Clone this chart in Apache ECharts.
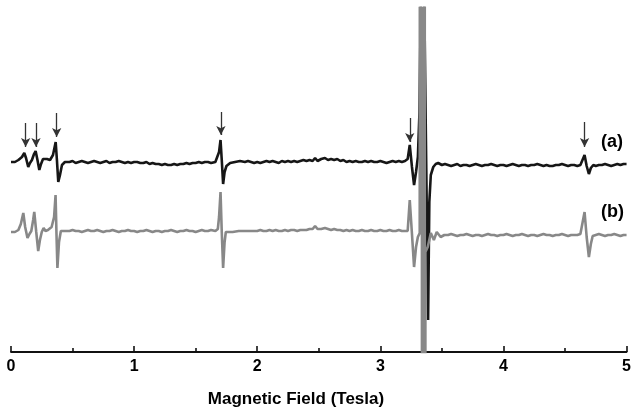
<!DOCTYPE html>
<html>
<head>
<meta charset="utf-8">
<script src="https://cdn.jsdelivr.net/npm/echarts@6/dist/echarts.min.js"></script>
<style>html,body{margin:0;padding:0;background:#fff;}#c{width:634px;height:412px;}</style>
</head>
<body>
<div id="c"></div>
<script>
// Magnetic field (Tesla) and signal (arbitrary units, offset traces)
const fieldA = [0,0.032,0.06,0.089,0.108,0.122,0.14,0.154,0.17,0.187,0.2,0.215,0.23,0.244,0.26,0.276,0.292,0.317,0.341,0.363,0.373,0.384,0.398,0.414,0.438,
  0.475,0.5,0.525,0.55,0.575,0.6,0.625,0.65,0.675,0.7,0.725,0.75,0.775,0.8,0.825,0.85,0.875,0.9,0.925,0.95,0.975,1.0,1.025,1.05,1.075,1.1,1.125,1.15,1.175,1.2,1.225,1.25,1.275,1.3,1.325,1.35,1.375,1.4,1.425,1.45,1.475,1.5,1.525,1.55,1.575,1.6,1.625,1.66,
  1.675,1.69,1.702,1.712,1.723,1.735,1.75,1.78,1.82,1.86,1.9,1.925,1.95,1.975,2.0,2.025,2.05,2.075,2.1,2.125,2.15,2.175,2.2,2.225,2.25,2.275,2.3,2.325,2.35,2.375,2.4,2.425,2.45,2.47,2.49,2.52,2.55,2.575,2.6,2.625,2.65,2.675,2.7,2.725,2.75,2.775,2.8,2.825,2.85,2.875,2.9,2.925,2.95,2.975,3.0,3.025,3.05,3.075,3.1,3.125,3.15,3.175,3.2,
  3.222,3.239,3.257,3.274,3.29,3.305,3.318,3.334,3.352,3.388,3.398,3.41,3.43,3.45,3.47,3.5,3.525,
  3.55,3.575,3.6,3.625,3.65,3.675,3.7,3.725,3.75,3.775,3.8,3.825,3.85,3.875,3.9,3.925,3.95,3.975,4.0,4.025,4.05,4.075,4.1,4.125,4.15,4.175,4.2,4.225,4.25,4.275,4.3,4.325,4.35,4.375,4.4,4.425,4.45,4.475,4.5,4.525,4.55,4.575,4.6,4.625,4.64,4.659,4.676,4.694,4.71,4.73,4.75,4.775,4.8,4.825,4.85,4.875,4.9,4.925,4.95,4.975,5.0];
const signalA = [190,190,192,195,199,194,185,189,192,198,201,192,182,188,193,191,193,192,197,210,192,170,177,187,190,
  190,191,189,190,191,190,189,190,191,190,189,190,191,189,190,190,191,190,189,190,189,190,190,189,189,190,188,189,188,188,187,188,187,187,188,187,188,188,189,188,189,189,190,189,190,190,189,190,
  191,200,212,192,168,180,186,189,190,191,190,191,190,189,190,189,190,191,190,191,190,189,191,190,191,190,191,190,191,192,191,192,191,194,191,193,194,192,193,192,193,191,192,190,191,190,191,190,190,191,190,191,190,190,191,190,189,190,191,190,191,190,191,
  193,207,185,167,180,195,240,400,400,32,150,177,185,188,189,187,188,
  187,186,187,188,186,187,187,186,187,188,187,186,187,187,188,187,186,187,187,186,187,188,187,186,187,187,186,187,187,188,187,186,187,186,186,187,187,188,187,186,187,187,186,187,188,197,186,178,184,187,186,187,187,188,187,186,187,188,187,188,188];

const fieldB = [0,0.032,0.06,0.08,0.1,0.115,0.134,0.15,0.165,0.18,0.189,0.205,0.221,0.235,0.25,0.265,0.28,0.3,0.33,0.35,0.362,0.369,0.377,0.39,0.405,0.43,
  0.475,0.5,0.525,0.55,0.575,0.6,0.625,0.65,0.675,0.7,0.725,0.75,0.775,0.8,0.825,0.85,0.875,0.9,0.925,0.95,0.975,1.0,1.025,1.05,1.075,1.1,1.125,1.15,1.175,1.2,1.225,1.25,1.275,1.3,1.325,1.35,1.375,1.4,1.425,1.45,1.475,1.5,1.525,1.55,1.575,1.6,1.625,1.66,
  1.68,1.69,1.702,1.712,1.723,1.735,1.745,1.76,1.8,1.85,1.9,1.916,1.93,1.97,2.0,2.025,2.05,2.075,2.1,2.125,2.15,2.175,2.2,2.225,2.25,2.275,2.3,2.325,2.35,2.375,2.4,2.425,2.45,2.47,2.49,2.52,2.55,2.575,2.6,2.625,2.65,2.675,2.7,2.725,2.75,2.775,2.8,2.825,2.85,2.875,2.9,2.925,2.95,2.975,3.0,3.025,3.05,3.075,3.1,3.125,3.15,3.175,3.2,
  3.222,3.239,3.257,3.274,3.29,3.305,3.32,3.337,3.339,3.36,3.362,3.366,3.385,3.41,3.435,3.458,3.49,3.52,
  3.55,3.575,3.6,3.625,3.65,3.675,3.7,3.725,3.75,3.775,3.8,3.825,3.85,3.875,3.9,3.925,3.95,3.975,4.0,4.025,4.05,4.075,4.1,4.125,4.15,4.175,4.2,4.225,4.25,4.275,4.3,4.325,4.35,4.375,4.4,4.425,4.45,4.475,4.5,4.525,4.55,4.575,4.6,4.625,4.64,4.659,4.676,4.694,4.71,4.725,4.75,4.775,4.8,4.825,4.85,4.875,4.9,4.925,4.95,4.975,5.0];
const signalB = [120,120,122,128,139,125,114,118,121,132,140,120,101,112,120,124,121,122,125,135,157,120,84,110,121,121,
  121,122,121,121,120,121,122,121,121,122,121,120,121,121,122,121,120,121,121,122,121,121,120,121,121,122,121,120,121,121,120,121,121,122,121,120,121,121,122,121,121,120,121,122,121,121,122,121,
  123,135,160,120,84,110,120,121,120,121,121,123,121,121,121,122,121,121,122,121,122,121,121,122,121,122,122,121,122,122,122,123,123,126,123,123,124,123,122,123,122,122,121,122,121,122,121,121,122,121,121,122,121,121,122,121,121,122,121,121,122,121,121,
  121,152,118,85,105,115,119,5000,-5000,5000,-5000,100,105,119,112,120,115,117,
  117,118,117,116,117,117,118,117,116,117,117,116,117,118,117,117,116,117,117,118,117,116,117,117,118,117,116,117,117,116,117,118,117,117,116,117,117,118,117,116,117,117,117,118,119,140,115,95,108,116,117,118,117,116,117,117,118,117,116,117,117];

// Arrow markers (field position, tail and tip levels)
const arrowFields = [0.119,0.203,0.371,1.705,3.239,4.659];
const arrowTail = [229,229,239,240,234,230];
const arrowTip = [205,205,215,217,210,205];

const xTicks = [0,1,2,3,4,5];
const traceLabels = ['(a)','(b)'];
const axisTitle = 'Magnetic Field (Tesla)';

const chart = echarts.init(document.getElementById('c'), null, {renderer:'canvas'});
const zipA = fieldA.map((f,i)=>[f, signalA[i]]);
const zipB = fieldB.map((f,i)=>[f, signalB[i]]);
const FONT = '"Liberation Sans", Arial, sans-serif';

chart.setOption({
  animation:false,
  backgroundColor:'#fff',
  grid:{left:11,right:7,top:8,bottom:60},
  xAxis:{
    type:'value', min:xTicks[0], max:xTicks[xTicks.length-1], interval:1,
    axisLine:{show:true, onZero:false, lineStyle:{color:'#111', width:1.8}},
    axisTick:{show:true, inside:true, length:6, lineStyle:{color:'#111', width:1.6}},
    minorTick:{show:true, splitNumber:2, length:4, lineStyle:{color:'#111', width:1.6}},
    splitLine:{show:false},
    axisLabel:{color:'#000', fontSize:16, fontWeight:'bold', fontFamily:FONT, margin:7}
  },
  yAxis:{type:'value', min:0, max:344, show:false, splitLine:{show:false}},
  series:[
    {type:'line', data:zipA, showSymbol:false, symbol:'none', z:2,
     lineStyle:{color:'#161616', width:2.6}, clip:true,
     markLine:{silent:true, symbol:['none','arrow'], symbolSize:[7,9], animation:false,
       lineStyle:{color:'#333', width:1.3, type:'solid'}, label:{show:false},
       data: arrowFields.map((f,i)=>[{coord:[f, arrowTail[i]]},{coord:[f, arrowTip[i]]}])}},
    {type:'line', data:zipB, showSymbol:false, symbol:'none', z:3,
     lineStyle:{color:'#888888', width:2.6}, clip:true}
  ],
  graphic:[
    {type:'text', left:601, top:133, style:{text:traceLabels[0], font:'bold 18px '+FONT, fill:'#000'}},
    {type:'text', left:601, top:203, style:{text:traceLabels[1], font:'bold 18px '+FONT, fill:'#000'}},
    {type:'text', x:296, y:399, style:{text:axisTitle, font:'bold 17px '+FONT, fill:'#000', align:'center', verticalAlign:'middle'}}
  ]
});
</script>
</body>
</html>
